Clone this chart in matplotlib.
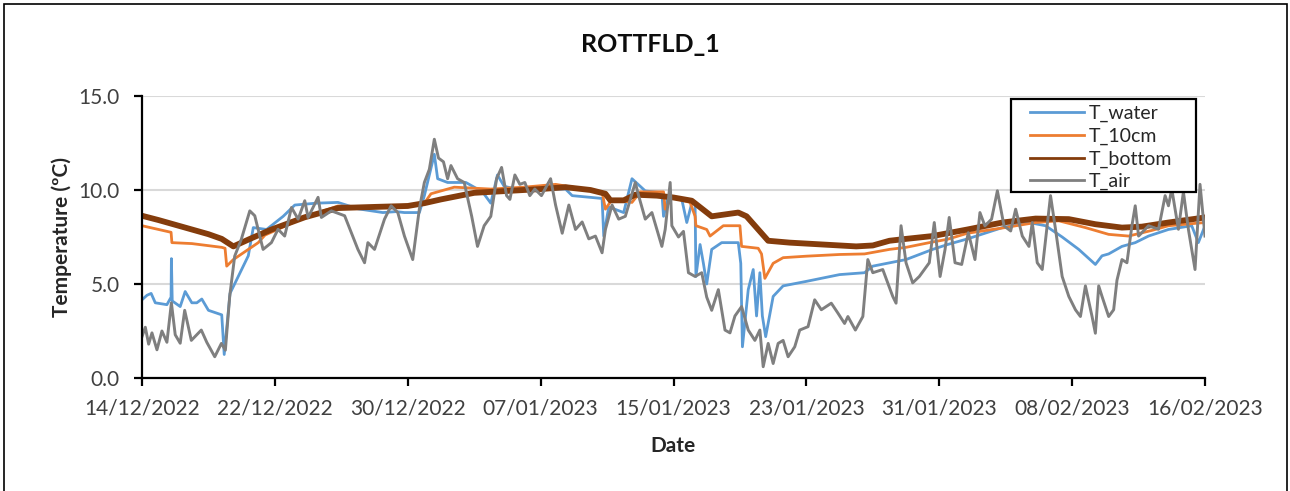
import matplotlib
matplotlib.use("agg")
import matplotlib.pyplot as plt
import matplotlib.dates as mdates
from matplotlib.patches import Rectangle
import pandas as pd

plt.rcParams['font.family'] = ['Lato', 'DejaVu Sans']

start = pd.Timestamp('2022-12-14')

# days since 14/12/2022 and temperature (ºC) for each logger
bottom_days = [0, 1, 2, 3, 4, 4.8, 5.5, 6.5, 7.8, 9.8, 11.8, 14, 16, 17, 18, 20, 22, 24,
               25.5, 27, 27.9, 28.2, 29, 29.7, 31, 32, 33.1, 34.3, 35.9, 36.4, 37.7, 39,
               41, 43, 44, 45, 46, 47.6, 49.7, 51.8, 53.8, 55.8, 57.4, 59, 60.2, 61.8, 64]
bottom_vals = [8.63, 8.4, 8.15, 7.9, 7.65, 7.4, 7.0, 7.4, 7.9, 8.55, 9.04, 9.1, 9.15, 9.3,
               9.5, 9.85, 9.95, 10.05, 10.15, 10.0, 9.8, 9.45, 9.45, 9.75, 9.7, 9.6, 9.43,
               8.6, 8.8, 8.6, 7.3, 7.2, 7.1, 7.0, 7.05, 7.3, 7.4, 7.55, 7.9, 8.27, 8.48,
               8.45, 8.18, 8.0, 8.05, 8.27, 8.54]

cm10_days = [0, 1, 1.75, 1.8, 3, 4.8, 5.0, 5.1, 5.5, 6.0, 7.0, 7.4, 9.8, 11.8, 14, 16, 17,
             17.4, 18.8, 21, 23, 24.9, 27, 27.7, 27.9, 28.3, 29.5, 30, 31.4, 31.5, 31.9,
             33.0, 33.3, 33.35, 34.0, 34.2, 35.0, 36.0, 36.1, 37.1, 37.3, 37.5, 38.0, 38.6,
             40, 42, 43.5, 45, 46, 47.4, 48.5, 49.7, 51.8, 53.8, 55.2, 56.8, 58.2, 59.4,
             60.8, 61.8, 64]
cm10_vals = [8.1, 7.9, 7.75, 7.2, 7.15, 6.95, 6.9, 5.95, 6.3, 6.6, 7.2, 7.6, 8.55, 9.15,
             9.1, 9.2, 9.3, 9.8, 10.15, 10.05, 10.15, 10.3, 10.0, 9.9, 8.98, 9.5, 9.34,
             9.9, 9.9, 8.98, 9.6, 9.34, 8.6, 8.1, 7.9, 7.55, 8.1, 8.1, 7.0, 6.9, 6.6, 5.3,
             6.1, 6.4, 6.48, 6.57, 6.6, 6.84, 6.95, 7.2, 7.38, 7.7, 7.98, 8.27, 8.36, 8.0,
             7.64, 7.55, 7.85, 8.1, 8.27]

water_days = [0, 0.3, 0.55, 0.8, 1.5, 1.75, 1.77, 1.82, 2.3, 2.6, 3.0, 3.3, 3.6, 4.0, 4.8,
              4.95, 5.3, 6.4, 6.7, 7.5, 8.5, 9.2, 10.5, 11.8, 13.0, 14.5, 15.3, 15.8, 16.7,
              17.0, 17.6, 17.8, 18.4, 19.5, 19.9, 20.5, 21.0, 21.4, 21.8, 22.5, 25.5, 25.9,
              27.7, 27.8, 28.1, 29.0, 29.5, 30.3, 31.3, 31.4, 31.7, 32.5, 32.8, 33.1, 33.3,
              33.35, 33.6, 33.8, 34.0, 34.3, 34.9, 35.9, 36.05, 36.15, 36.5, 36.8, 37.0,
              37.2, 37.35, 37.55, 38.0, 38.6, 40.0, 42.0, 43.5, 44.0, 46.0, 47.6, 48.5,
              49.7, 51.8, 53.4, 54.4, 55.4, 56.4, 57.4, 57.8, 58.2, 59.0, 59.8, 60.6, 61.8,
              63.2, 63.6, 64.0]
water_vals = [4.16, 4.4, 4.5, 4.0, 3.9, 4.3, 6.35, 4.1, 3.8, 4.6, 4.0, 4.0, 4.2, 3.6, 3.36,
              1.25, 4.5, 6.5, 8.0, 7.9, 8.6, 9.2, 9.3, 9.34, 9.0, 8.8, 8.85, 8.8, 8.8, 9.7,
              11.9, 10.6, 10.4, 10.4, 10.2, 9.9, 9.3, 10.8, 10.2, 10.05, 10.05, 9.7, 9.55,
              7.55, 9.1, 8.8, 10.6, 9.95, 9.85, 8.6, 9.7, 9.5, 8.27, 9.3, 9.3, 5.4, 7.1,
              6.1, 5.0, 6.84, 7.2, 7.2, 6.1, 1.66, 4.7, 5.77, 3.3, 5.6, 3.3, 2.2, 4.34, 4.9,
              5.14, 5.5, 5.6, 5.95, 6.3, 6.84, 7.1, 7.4, 8.0, 8.27, 8.1, 7.5, 6.84, 6.04,
              6.5, 6.6, 7.0, 7.2, 7.55, 7.9, 8.1, 7.2, 8.1]

air_days = [0, 0.2, 0.4, 0.6, 0.9, 1.2, 1.5, 1.77, 2.0, 2.3, 2.57, 2.97, 3.3, 3.57, 3.9,
            4.38, 4.78, 5.02, 5.28, 5.58, 5.98, 6.49, 6.79, 7.29, 7.79, 8.19, 8.59, 9.0,
            9.4, 9.8, 10.0, 10.6, 10.8, 11.4, 12.2, 13.0, 13.4, 13.6, 14.0, 14.6, 15.0,
            15.4, 15.8, 16.3, 16.7, 17.0, 17.3, 17.6, 17.85, 18.15, 18.4, 18.6, 19.0,
            19.4, 19.85, 20.2, 20.6, 21.0, 21.35, 21.65, 21.95, 22.15, 22.45, 22.75,
            23.05, 23.35, 23.65, 24.05, 24.6, 24.9, 25.3, 25.7, 26.1, 26.5, 26.9, 27.3,
            27.7, 27.9, 28.3, 28.7, 29.1, 29.7, 29.9, 30.3, 30.7, 31.3, 31.5, 31.8, 31.9,
            32.3, 32.6, 32.9, 33.3, 33.7, 34.0, 34.3, 34.7, 35.1, 35.4, 35.7, 36.1, 36.5,
            36.9, 37.2, 37.4, 37.7, 38.0, 38.3, 38.6, 38.9, 39.3, 39.6, 40.1, 40.5, 40.9,
            41.5, 41.9, 42.3, 42.5, 42.95, 43.4, 43.7, 44.0, 44.6, 45.2, 45.4, 45.7, 46.0,
            46.4, 46.8, 47.4, 47.7, 48.05, 48.35, 48.6, 48.95, 49.35, 49.75, 50.15,
            50.45, 50.75, 51.15, 51.5, 51.9, 52.3, 52.6, 53.0, 53.4, 53.6, 53.9, 54.2,
            54.7, 55.0, 55.4, 55.8, 56.2, 56.5, 56.8, 57.2, 57.4, 57.6, 57.8, 58.2, 58.5,
            58.7, 59.0, 59.3, 59.6, 59.8, 60.0, 60.6, 61.2, 61.6, 61.8, 62.0, 62.4, 62.7,
            63.0, 63.4, 63.7, 64.0]
air_vals = [2.2, 2.7, 1.8, 2.4, 1.5, 2.5, 1.9, 4.0, 2.3, 1.85, 3.6, 2.0, 2.3, 2.55, 1.9,
            1.13, 1.84, 1.48, 4.34, 6.48, 7.38, 8.89, 8.63, 6.84, 7.2, 7.91, 7.55, 9.07,
            8.45, 9.43, 8.54, 9.61, 8.54, 8.89, 8.63, 6.84, 6.13, 7.2, 6.84, 8.45, 9.16,
            8.8, 7.55, 6.3, 9.0, 10.4, 11.1, 12.7, 11.7, 11.5, 10.6, 11.3, 10.6, 10.4,
            8.6, 7.0, 8.1, 8.6, 10.6, 11.2, 9.7, 9.5, 10.8, 10.3, 10.4, 9.7, 10.05, 9.7,
            10.6, 9.2, 7.7, 9.2, 7.9, 8.3, 7.4, 7.55, 6.66, 7.9, 9.2, 8.45, 8.6, 10.4,
            9.7, 8.45, 8.8, 7.0, 7.9, 10.4, 8.1, 7.5, 7.8, 5.6, 5.4, 5.6, 4.3, 3.6, 4.7,
            2.55, 2.4, 3.3, 3.8, 2.55, 2.0, 2.55, 0.6, 1.84, 0.77, 1.84, 2.0, 1.13, 1.66,
            2.55, 2.73, 4.16, 3.63, 3.98, 3.45, 2.9, 3.27, 2.55, 3.27, 6.3, 5.6, 5.77,
            4.34, 3.98, 8.1, 6.13, 5.06, 5.4, 6.13, 8.27, 5.4, 6.84, 8.54, 6.13, 6.04,
            7.73, 6.3, 8.8, 8.09, 8.45, 9.96, 8.09, 7.82, 8.98, 7.55, 7.0, 8.27, 6.13,
            5.77, 9.7, 7.91, 5.4, 4.34, 3.63, 3.27, 4.9, 3.27, 2.38, 4.9, 4.34, 3.27,
            3.63, 5.2, 6.3, 6.13, 8.1, 9.16, 7.55, 8.1, 7.91, 9.7, 9.16, 10.05, 7.91, 9.9,
            7.91, 5.77, 10.3, 7.55]

series = [
    ('T_water', water_days, water_vals, '#5B9BD5', 2.0),
    ('T_10cm', cm10_days, cm10_vals, '#ED7D31', 2.0),
    ('T_bottom', bottom_days, bottom_vals, '#843C0C', 4.2),
    ('T_air', air_days, air_vals, '#7F7F7F', 2.1),
]

fig = plt.figure(figsize=(12.9, 4.91), dpi=100)
ax = fig.add_axes([142 / 1290, 1 - 378 / 491, 1063 / 1290, 282 / 491])

for name, days, vals, color, lw in series:
    t = start + pd.to_timedelta(days, unit='D')
    ax.plot(t, vals, color=color, lw=lw, label=name)

ax.set_xlim(start, start + pd.Timedelta(days=64))
ax.set_ylim(0, 15)
ax.set_yticks([0, 5, 10, 15])
ax.yaxis.set_major_formatter(plt.FormatStrFormatter('%.1f'))
ax.set_xticks(pd.date_range(start, periods=9, freq='8D'))
ax.xaxis.set_major_formatter(mdates.DateFormatter('%d/%m/%Y'))

ax.grid(axis='y', color='#d9d9d9', lw=1.5)
ax.set_axisbelow(True)
for s in ['top', 'right']:
    ax.spines[s].set_visible(False)
for s in ['left', 'bottom']:
    ax.spines[s].set_linewidth(1.6)
    ax.spines[s].set_color('black')
ax.tick_params(axis='both', direction='out', length=6, width=1.6, labelsize=15,
               colors='black', labelcolor='#404040')
ax.tick_params(axis='y', pad=10)
ax.tick_params(axis='x', pad=9)

ax.set_xlabel('Date', fontsize=15, fontweight='bold', color='#262626', labelpad=12)
ax.set_ylabel('Temperature (ºC)', fontsize=15, fontweight='bold', color='#262626', labelpad=5)

fig.text(650 / 1290, 1 - 45 / 491, 'ROTTFLD_1', ha='center', va='center',
         fontsize=18, fontweight='bold', color='#0d0d0d')

# legend: white box with black edge, entries drawn without their own frame
fig.patches.append(Rectangle((1011 / 1290, 1 - 192 / 491), 185 / 1290, 93 / 491,
                             transform=fig.transFigure, facecolor='white',
                             edgecolor='black', lw=1.6, zorder=4))
leg = fig.legend(loc='upper left', bbox_to_anchor=(1028 / 1290, 1 - 103 / 491),
                 frameon=False, fontsize=14, handlelength=2.8, handletextpad=0.2,
                 labelspacing=0.28, borderaxespad=0, borderpad=0.1)
for t in leg.get_texts():
    t.set_color('#262626')
for h in leg.get_lines():
    h.set_linewidth(2.0)

# outer chart border
fig.patches.append(Rectangle((4 / 1290, -0.1), 1283 / 1290, 1.1 - 4 / 491,
                             transform=fig.transFigure, facecolor='none',
                             edgecolor='black', lw=1.2))

fig.savefig('out.png', dpi=100)
